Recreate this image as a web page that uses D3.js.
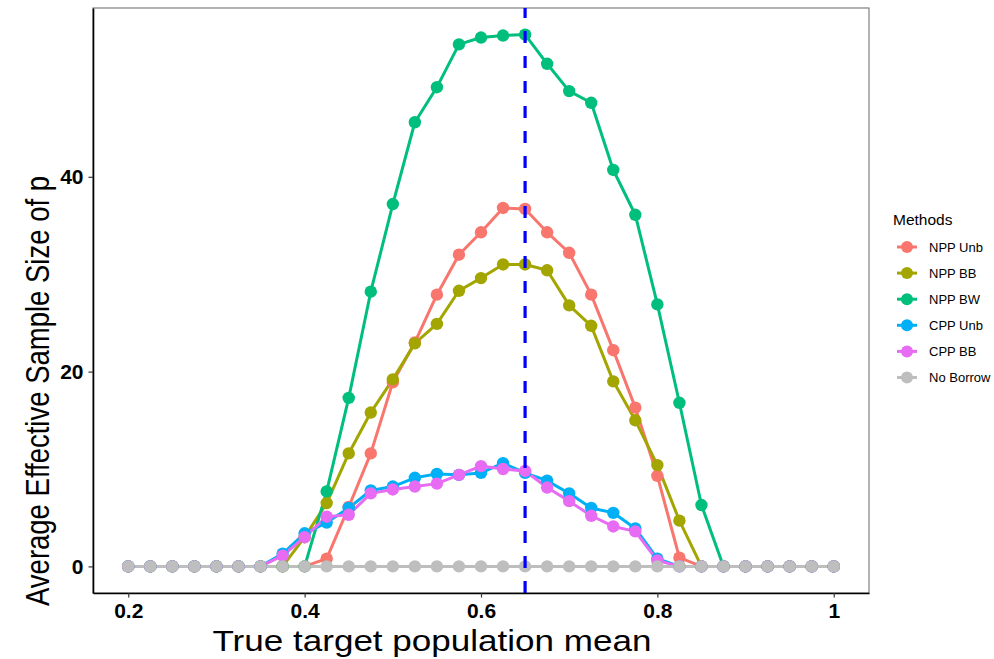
<!DOCTYPE html>
<html>
<head>
<meta charset="utf-8">
<script src="https://cdn.jsdelivr.net/npm/d3@7"></script>
<style>
  body { margin: 0; background: #fff; }
  svg { display: block; }
</style>
</head>
<body>
<div id="chart"></div>
<script>
// x positions (true target population mean)
const xValues = [0.2, 0.225, 0.25, 0.275, 0.3, 0.325, 0.35, 0.375, 0.4, 0.425, 0.45,
    0.475, 0.5, 0.525, 0.55, 0.575, 0.6, 0.625, 0.65, 0.675, 0.7, 0.725, 0.75,
    0.775, 0.8, 0.825, 0.85, 0.875, 0.9, 0.925, 0.95, 0.975, 1]

const nppUnb = [0, 0, 0, 0, 0, 0, 0, 0, 0, 0.8, 6.1, 11.6, 18.9, 23.0, 27.9, 32.0, 34.3,
    36.8, 36.7, 34.3, 32.2, 27.9, 22.2, 16.3, 9.3, 0.9, 0, 0, 0, 0, 0, 0, 0]
const nppBB = [0, 0, 0, 0, 0, 0, 0, 0, 3.0, 6.5, 11.6, 15.8, 19.2, 22.9, 24.9, 28.3, 29.6,
    31.0, 31.0, 30.4, 26.8, 24.7, 19.0, 15.0, 10.4, 4.7, 0, 0, 0, 0, 0, 0, 0]
const nppBW = [0, 0, 0, 0, 0, 0, 0, 0, 0, 7.7, 17.3, 28.2, 37.2, 45.6, 49.2, 53.6, 54.3,
    54.5, 54.6, 51.6, 48.8, 47.6, 40.7, 36.1, 26.9, 16.8, 6.3, 0, 0, 0, 0, 0, 0]
const cppUnb = [0, 0, 0, 0, 0, 0, 0, 1.3, 3.4, 4.5, 6.0, 7.8, 8.2, 9.1, 9.5, 9.4, 9.6,
    10.6, 9.6, 8.8, 7.5, 6.0, 5.5, 3.9, 0.8, 0, 0, 0, 0, 0, 0, 0, 0]
const cppBB = [0, 0, 0, 0, 0, 0, 0, 1.1, 3.0, 5.1, 5.3, 7.5, 7.9, 8.2, 8.5, 9.4, 10.3,
    10.0, 9.8, 8.1, 6.7, 5.2, 4.1, 3.6, 0.6, 0, 0, 0, 0, 0, 0, 0, 0]
const noBorrow = [0, 0, 0, 0, 0, 0, 0, 0, 0, 0, 0, 0, 0, 0, 0, 0, 0,
    0, 0, 0, 0, 0, 0, 0, 0, 0, 0, 0, 0, 0, 0, 0, 0]

const methodNames = ["NPP Unb", "NPP BB", "NPP BW", "CPP Unb", "CPP BB", "No Borrow"]
const methodColors = ["#F8766D", "#A3A500", "#00BF7D", "#00B0F6", "#E76BF3", "#BEBEBE"]
const methodValues = [nppUnb, nppBB, nppBW, cppUnb, cppBB, noBorrow]

const xTicks = [0.2, 0.4, 0.6, 0.8, 1]
const xTickLabels = ["0.2", "0.4", "0.6", "0.8", "1"]
const yTicks = [0, 20, 40]
const trueMean = 0.65

const width = 994, height = 659
const panel = { left: 93, right: 869, top: 8, bottom: 593 }
const tickFont = "'Liberation Sans Narrow', 'Arial Narrow', 'Liberation Sans', Arial, sans-serif"

const svg = d3.select("#chart").append("svg")
    .attr("width", width)
    .attr("height", height)

// ggplot style 5% expansion
const yMax = d3.max(methodValues.flat())
const xScale = d3.scaleLinear().domain([0.16, 1.04]).range([panel.left, panel.right])
const yScale = d3.scaleLinear().domain([-yMax * 0.05, yMax * 1.05]).range([panel.bottom, panel.top])

// panel border
svg.append("rect")
    .attr("x", panel.left)
    .attr("y", panel.top)
    .attr("width", panel.right - panel.left)
    .attr("height", panel.bottom - panel.top)
    .attr("fill", "none")
    .attr("stroke", "#7f7f7f")
    .attr("stroke-width", 1.2)

const series = methodNames.map((name, k) => ({
    name: name,
    color: methodColors[k],
    points: xValues.map((x, i) => ({ x: x, y: methodValues[k][i] }))
}))

const line = d3.line().x(d => xScale(d.x)).y(d => yScale(d.y))

const plot = svg.append("g")

plot.selectAll(".series-line")
    .data(series)
    .enter()
    .append("path")
    .attr("class", "series-line")
    .attr("d", d => line(d.points))
    .attr("fill", "none")
    .attr("stroke", d => d.color)
    .attr("stroke-width", 3)
    .attr("stroke-linejoin", "round")

series.forEach(s => {
    plot.selectAll(null)
        .data(s.points)
        .enter()
        .append("circle")
        .attr("cx", d => xScale(d.x))
        .attr("cy", d => yScale(d.y))
        .attr("r", 6.2)
        .attr("fill", s.color)
})

// vertical dashed line at the true mean
svg.append("line")
    .attr("x1", xScale(trueMean))
    .attr("x2", xScale(trueMean))
    .attr("y1", panel.bottom)
    .attr("y2", panel.top)
    .attr("stroke", "#0000FF")
    .attr("stroke-width", 3.2)
    .attr("stroke-dasharray", "12,13")

// axes
const xAxis = d3.axisBottom(xScale)
    .tickValues(xTicks)
    .tickFormat((d, i) => xTickLabels[i])
    .tickSizeInner(4.5)
    .tickSizeOuter(0)
    .tickPadding(6)
const yAxis = d3.axisLeft(yScale)
    .tickValues(yTicks)
    .tickSizeInner(4.5)
    .tickSizeOuter(0)
    .tickPadding(5)

const gx = svg.append("g")
    .attr("transform", `translate(0,${panel.bottom})`)
    .call(xAxis)
const gy = svg.append("g")
    .attr("transform", `translate(${panel.left},0)`)
    .call(yAxis)

;[gx, gy].forEach(g => {
    g.select(".domain").attr("stroke", "#000").attr("stroke-width", 1.6)
    g.selectAll(".tick line").attr("stroke", "#333").attr("stroke-width", 1.2)
    g.selectAll(".tick text")
        .attr("fill", "#000")
        .style("font-family", tickFont)
        .style("font-weight", "bold")
        .style("font-size", "21px")
})

// axis titles
svg.append("text")
    .attr("x", 432)
    .attr("y", 651)
    .attr("text-anchor", "middle")
    .attr("textLength", 439)
    .attr("lengthAdjust", "spacingAndGlyphs")
    .style("font-family", tickFont)
    .style("font-size", "30px")
    .attr("fill", "#000")
    .text("True target population mean")

svg.append("text")
    .attr("transform", "translate(49,391) rotate(-90)")
    .attr("text-anchor", "middle")
    .attr("textLength", 430)
    .attr("lengthAdjust", "spacingAndGlyphs")
    .style("font-family", tickFont)
    .style("font-size", "33px")
    .attr("fill", "#000")
    .text("Average Effective Sample Size of p")

// legend
const legend = svg.append("g").attr("transform", "translate(893,0)")
legend.append("text")
    .attr("x", 0)
    .attr("y", 225)
    .style("font-family", "'Liberation Sans', Arial, sans-serif")
    .style("font-size", "15.5px")
    .attr("fill", "#000")
    .text("Methods")

const rows = legend.selectAll(".legend-row")
    .data(series)
    .enter()
    .append("g")
    .attr("class", "legend-row")
    .attr("transform", (d, i) => `translate(0,${247 + i * 26.1})`)

rows.append("line")
    .attr("x1", 4).attr("x2", 24)
    .attr("y1", 0).attr("y2", 0)
    .attr("stroke", d => d.color)
    .attr("stroke-width", 3)
rows.append("circle")
    .attr("cx", 14).attr("cy", 0)
    .attr("r", 6)
    .attr("fill", d => d.color)
rows.append("text")
    .attr("x", 36)
    .attr("y", 4.5)
    .style("font-family", "'Liberation Sans', Arial, sans-serif")
    .style("font-size", "13px")
    .attr("fill", "#000")
    .text(d => d.name)
</script>
</body>
</html>
